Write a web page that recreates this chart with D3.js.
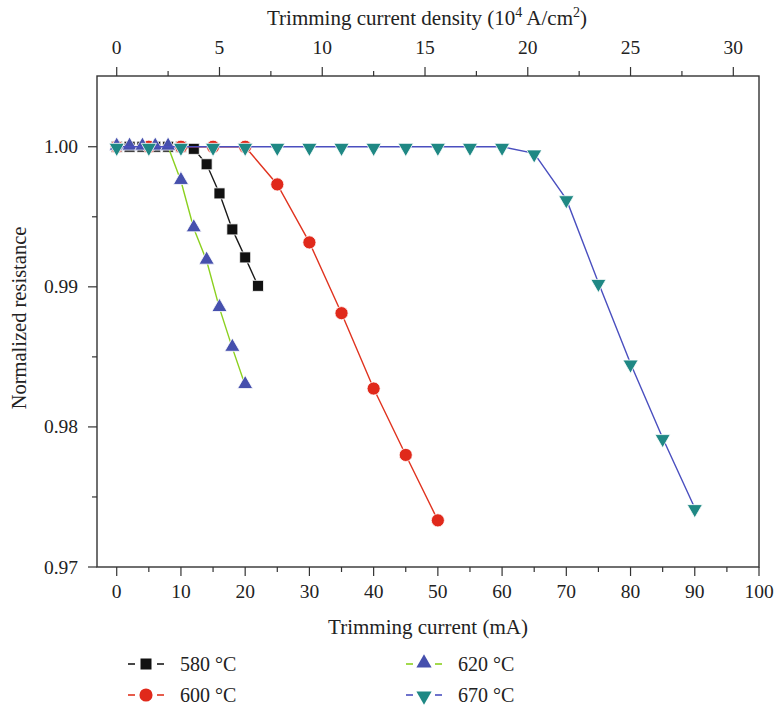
<!doctype html>
<html>
<head>
<meta charset="utf-8">
<title>Normalized resistance vs trimming current</title>
<script src="https://cdnjs.cloudflare.com/ajax/libs/d3/7.8.5/d3.min.js"></script>
<style>
  body { margin: 0; background: #fff; }
  svg text { font-family: "Liberation Serif", "DejaVu Serif", serif; fill: #222; }
</style>
</head>
<body>
<div id="chart"></div>
<script>
// values (current in mA, normalized resistance)
let current580 = [0, 2, 4, 6, 8, 10, 12, 14, 16, 18, 20, 22];
let resist580 = [1, 1, 1, 1, 1, 1, 0.99985, 0.99875, 0.99667, 0.9941, 0.9921, 0.99007];

let current600 = [0, 5, 10, 15, 20, 25, 30, 35, 40, 45, 50];
let resist600 = [1, 1, 1, 1, 1, 0.99731, 0.99317, 0.98812, 0.98274, 0.978, 0.97333];

let current620 = [0, 2, 4, 6, 8, 10, 12, 14, 16, 18, 20];
let resist620 = [1, 1, 1, 1, 1, 0.99755, 0.99417, 0.99186, 0.98848, 0.98564, 0.98298];

let current670 = [0, 5, 10, 15, 20, 25, 30, 35, 40, 45, 50, 55, 60, 65, 70, 75, 80, 85, 90];
let resist670 = [1, 1, 1, 1, 1, 1, 1, 1, 1, 1, 1, 1, 1, 0.99953, 0.99626, 0.99029, 0.98453, 0.97921, 0.97421];

let seriesNames = ["580 °C", "600 °C", "620 °C", "670 °C"];
let xTicks = [0, 10, 20, 30, 40, 50, 60, 70, 80, 90, 100];
let topTicks = [0, 5, 10, 15, 20, 25, 30];
let yTicks = [0.97, 0.98, 0.99, 1.00];

// mA -> 10^4 A/cm2
let densityFactor = 3.2;

let series = [
  { name: seriesNames[0], x: current580, y: resist580, line: "#1a1a1a", fill: "#111111", shape: "square" },
  { name: seriesNames[1], x: current600, y: resist600, line: "#e0331f", fill: "#e0291b", shape: "circle" },
  { name: seriesNames[2], x: current620, y: resist620, line: "#8bd01f", fill: "#4650ad", shape: "up" },
  { name: seriesNames[3], x: current670, y: resist670, line: "#4a4fbf", fill: "#1f8884", shape: "down" }
];

let width = 775, height = 708;
let mLeft = 97, mRight = 759, mTop = 76, mBottom = 567;

let svg = d3.select("#chart").append("svg")
  .attr("width", width)
  .attr("height", height);

let x = d3.scaleLinear().domain([-3.07, 100]).range([mLeft, mRight]);
let xTop = d3.scaleLinear().domain([-3.07 / densityFactor, 100 / densityFactor]).range([mLeft, mRight]);
let y = d3.scaleLinear().domain([0.97, 1.00505]).range([mBottom, mTop]);

// frame
svg.append("rect")
  .attr("x", mLeft).attr("y", mTop)
  .attr("width", mRight - mLeft).attr("height", mBottom - mTop)
  .attr("fill", "none").attr("stroke", "#333").attr("stroke-width", 1.4);

// bottom axis
let minorX = d3.range(5, 100, 10);
svg.selectAll(".xmaj").data(xTicks).join("line")
  .attr("x1", d => x(d)).attr("x2", d => x(d))
  .attr("y1", mBottom).attr("y2", mBottom + 9)
  .attr("stroke", "#333").attr("stroke-width", 1.2);
svg.selectAll(".xmin").data(minorX).join("line")
  .attr("x1", d => x(d)).attr("x2", d => x(d))
  .attr("y1", mBottom).attr("y2", mBottom + 5)
  .attr("stroke", "#333").attr("stroke-width", 1.2);
svg.selectAll(".xlab").data(xTicks).join("text")
  .attr("x", d => x(d)).attr("y", mBottom + 31)
  .attr("text-anchor", "middle").attr("font-size", 19.5)
  .text(d => d);

// top axis
let minorTop = d3.range(2.5, 31, 5);
svg.selectAll(".tmaj").data(topTicks).join("line")
  .attr("x1", d => xTop(d)).attr("x2", d => xTop(d))
  .attr("y1", mTop).attr("y2", mTop - 9)
  .attr("stroke", "#333").attr("stroke-width", 1.2);
svg.selectAll(".tmin").data(minorTop).join("line")
  .attr("x1", d => xTop(d)).attr("x2", d => xTop(d))
  .attr("y1", mTop).attr("y2", mTop - 5)
  .attr("stroke", "#333").attr("stroke-width", 1.2);
svg.selectAll(".tlab").data(topTicks).join("text")
  .attr("x", d => xTop(d)).attr("y", mTop - 22)
  .attr("text-anchor", "middle").attr("font-size", 19.5)
  .text(d => d);

// left axis
let minorY = [0.975, 0.985, 0.995];
svg.selectAll(".ymaj").data(yTicks).join("line")
  .attr("x1", mLeft - 9).attr("x2", mLeft)
  .attr("y1", d => y(d)).attr("y2", d => y(d))
  .attr("stroke", "#333").attr("stroke-width", 1.2);
svg.selectAll(".ymin").data(minorY).join("line")
  .attr("x1", mLeft - 5).attr("x2", mLeft)
  .attr("y1", d => y(d)).attr("y2", d => y(d))
  .attr("stroke", "#333").attr("stroke-width", 1.2);
svg.selectAll(".ylab").data(yTicks).join("text")
  .attr("x", mLeft - 19).attr("y", d => y(d) + 6.5)
  .attr("text-anchor", "end").attr("font-size", 19.5)
  .text(d => d3.format(".2f")(d));

// titles
svg.append("text")
  .attr("x", 428).attr("y", 634)
  .attr("text-anchor", "middle").attr("font-size", 21)
  .text("Trimming current (mA)");

let topTitle = svg.append("text")
  .attr("x", 427).attr("y", 25)
  .attr("text-anchor", "middle").attr("font-size", 21);
topTitle.append("tspan").text("Trimming current density (10");
topTitle.append("tspan").attr("dy", -8).attr("font-size", 14).text("4");
topTitle.append("tspan").attr("dy", 8).text(" A/cm");
topTitle.append("tspan").attr("dy", -8).attr("font-size", 14).text("2");
topTitle.append("tspan").attr("dy", 8).text(")");

svg.append("text")
  .attr("transform", "translate(26," + 318 + ") rotate(-90)")
  .attr("text-anchor", "middle").attr("font-size", 20.5)
  .text("Normalized resistance");

// markers
function symbolPath(shape) {
  if (shape === "square") return d3.symbol().type(d3.symbolSquare).size(121)();
  if (shape === "circle") return d3.symbol().type(d3.symbolCircle).size(135)();
  return d3.symbol().type(d3.symbolTriangle).size(100)();
}
function symbolTransform(shape, px, py) {
  if (shape === "up") return "translate(" + px + "," + (py - 1) + ")";
  if (shape === "down") return "translate(" + px + "," + (py + 1) + ") rotate(180)";
  return "translate(" + px + "," + py + ")";
}

let line = d3.line().x(d => x(d[0])).y(d => y(d[1]));

series.forEach(s => {
  let pts = s.x.map((v, i) => [v, s.y[i]]);
  svg.append("path")
    .datum(pts)
    .attr("d", line)
    .attr("fill", "none")
    .attr("stroke", s.line)
    .attr("stroke-width", 1.4);
  svg.selectAll(null).data(pts).join("path")
    .attr("d", symbolPath(s.shape))
    .attr("transform", d => symbolTransform(s.shape, x(d[0]), y(d[1])))
    .attr("fill", s.fill)
    .attr("stroke", "#fff")
    .attr("stroke-width", 0.8);
});

// legend
let legendPos = [[146, 664], [146, 695], [424, 664], [424, 695]];
series.forEach((s, i) => {
  let lx = legendPos[i][0], ly = legendPos[i][1];
  let g = svg.append("g");
  g.append("line").attr("x1", lx - 18).attr("x2", lx - 11).attr("y1", ly).attr("y2", ly)
    .attr("stroke", s.line).attr("stroke-width", 1.6);
  g.append("line").attr("x1", lx + 11).attr("x2", lx + 18).attr("y1", ly).attr("y2", ly)
    .attr("stroke", s.line).attr("stroke-width", 1.6);
  g.append("path")
    .attr("d", symbolPath(s.shape))
    .attr("transform", symbolTransform(s.shape, lx, ly))
    .attr("fill", s.fill);
  g.append("text")
    .attr("x", lx + 34).attr("y", ly + 7)
    .attr("font-size", 20)
    .text(s.name);
});
</script>
</body>
</html>
